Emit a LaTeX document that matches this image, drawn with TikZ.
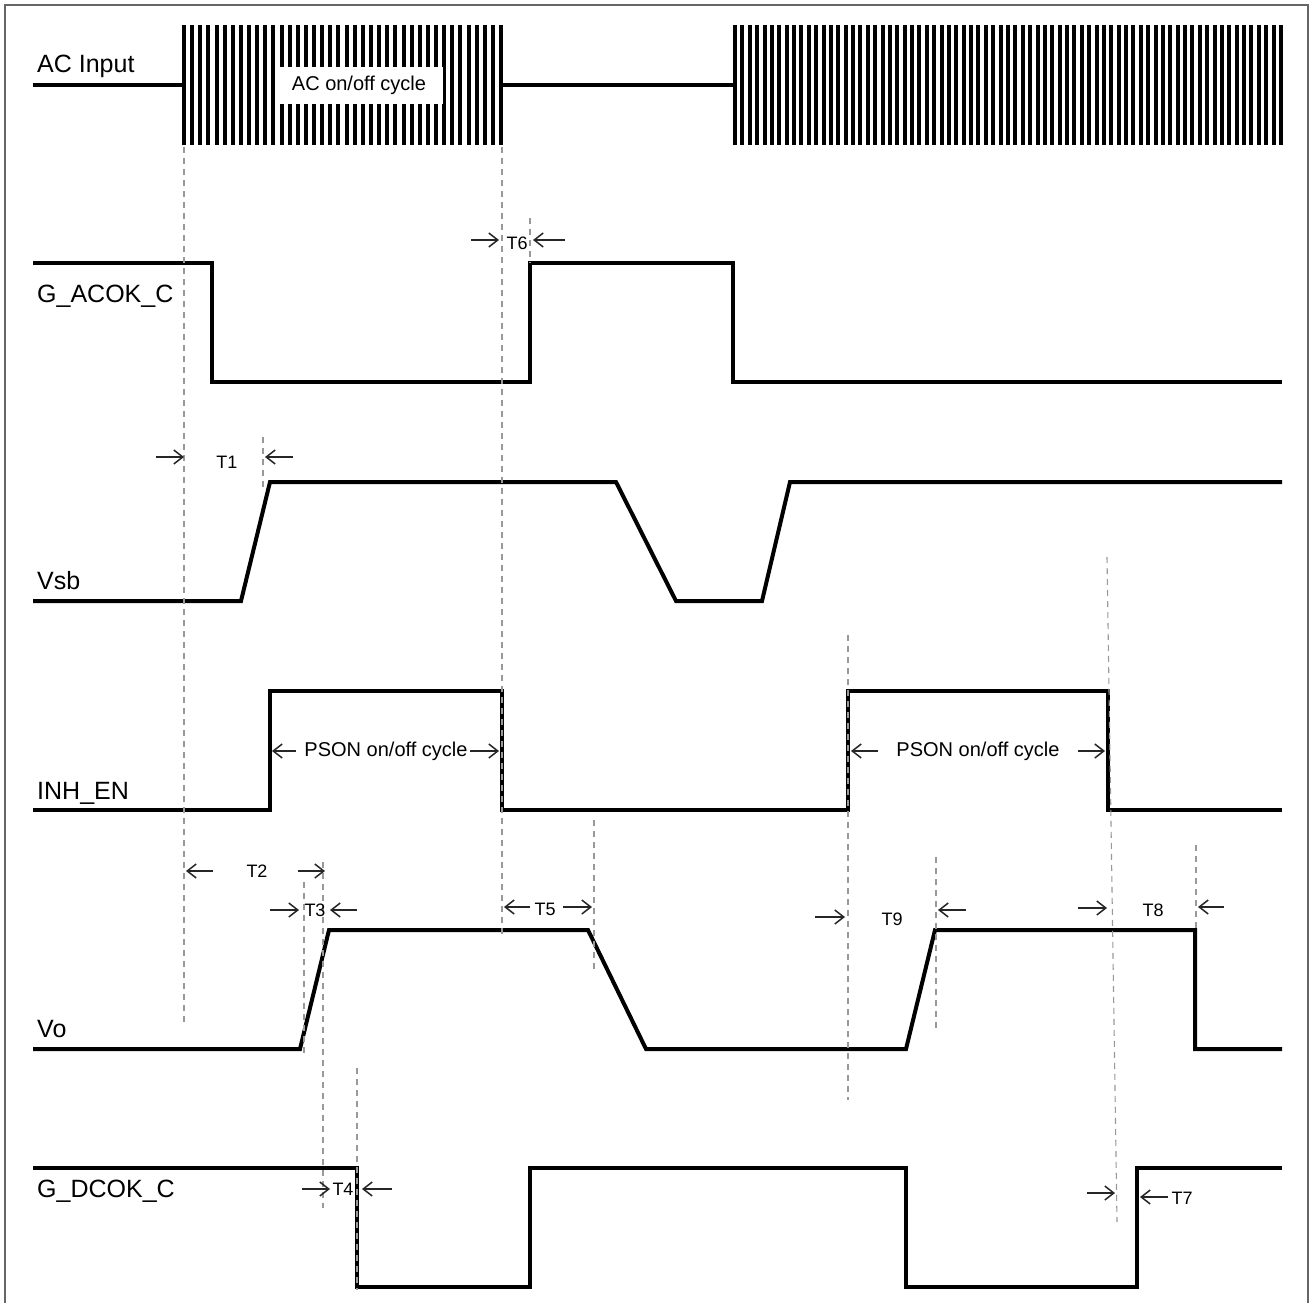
\documentclass[tikz,border=0pt]{standalone}
\usepackage{fontspec}
\setmainfont{Liberation Sans}
\usetikzlibrary{arrows.meta}
\begin{document}
\begin{tikzpicture}[x=1pt,y=-1pt,
  sig/.style={line width=4pt, line join=miter, draw=black},
  guide/.style={draw=black!40, line width=1.1pt, dash pattern=on 6pt off 5pt},
  dim/.style={-{Straight Barb[length=9pt,width=14pt]}, line width=1.5pt, draw=black!85},
  lbl/.style={font=\fontsize{25}{28}\selectfont, anchor=base west, inner sep=0pt},
  tl/.style={font=\fontsize{18}{20}\selectfont, inner sep=1pt},
  stripe/.style={line width=4pt, draw=black},
]
\useasboundingbox (0,0) rectangle (1314,1303);
\fill[white] (0,0) rectangle (1314,1303);
\draw[black!60, line width=1.8pt] (5,1320) -- (5,5) -- (1308,5) -- (1308,1320);

% AC input bursts
\foreach \i in {0,...,39} \draw[stripe] ({184+8.13*\i},25) -- ++(0,120);
\foreach \i in {0,...,74} \draw[stripe] ({735+7.378*\i},25) -- ++(0,120);
\node[fill=white, minimum width=168pt, minimum height=37pt, inner sep=0pt,
      font=\fontsize{20}{22}\selectfont] (acbox) at (359,85.5) {AC on/off cycle};

% signals
\draw[sig] (33,85) -- (184,85);
\draw[sig] (501,85) -- (735,85);
\draw[sig] (33,263) -- (212,263) -- (212,382) -- (530,382) -- (530,263) -- (733,263) -- (733,382) -- (1282,382);
\draw[sig] (33,601) -- (241,601) -- (270,482) -- (616,482) -- (676,601) -- (762,601) -- (790,482) -- (1282,482);
\draw[sig] (33,810) -- (270,810) -- (270,691) -- (502,691) -- (502,810) -- (848,810) -- (848,691) -- (1108,691) -- (1108,810) -- (1282,810);
\draw[sig] (33,1049) -- (300,1049) -- (329,930) -- (588,930) -- (646,1049) -- (906,1049) -- (935,930) -- (1195,930) -- (1195,1049) -- (1282,1049);
\draw[sig] (33,1168) -- (357,1168) -- (357,1287) -- (530,1287) -- (530,1168) -- (906,1168) -- (906,1287) -- (1137,1287) -- (1137,1168) -- (1282,1168);

% signal names
\node[lbl] (acin) at (37,73) {AC Input};
\node[lbl] (acok) at (37,302) {G\_ACOK\_C};
\node[lbl] (vsb) at (37,589) {Vsb};
\node[lbl] (inh) at (37,799) {INH\_EN};
\node[lbl] (vo) at (37,1037) {Vo};
\node[lbl] (dcok) at (37,1197) {G\_DCOK\_C};

% guide lines
\draw[guide] (184,147) -- (184,1022);
\draw[guide] (502,147) -- (502,935);
\draw[guide] (530,218) -- (530,263);
\draw[guide] (263,437) -- (263,490);
\draw[guide] (323,862) -- (323,1208);
\draw[guide] (304,882) -- (304,1055);
\draw[guide] (357,1068) -- (357,1290);
\draw[guide] (594,820) -- (594,970);
\draw[guide] (848,635) -- (848,1100);
\draw[guide] (936,857) -- (936,1030);
\draw[guide] (1107,557) -- (1117,1222);
\draw[guide] (1196,845) -- (1196,930);

% timing labels and arrows
\node[tl] (t6) at (517,243) {T6};
\draw[dim] (471,240) -- (499,240);
\draw[dim] (565,240) -- (533,240);

\node[tl] (t1) at (227,462) {T1};
\draw[dim] (156,457) -- (184,457);
\draw[dim] (293,457) -- (265,457);

\node[font=\fontsize{20}{22}\selectfont, inner sep=1pt] (pson1) at (386,751) {PSON on/off cycle};
\draw[dim] (296,751) -- (272,751);
\draw[dim] (470,751) -- (499,751);

\node[font=\fontsize{20}{22}\selectfont, inner sep=1pt] (pson2) at (978,751) {PSON on/off cycle};
\draw[dim] (878,751) -- (851,751);
\draw[dim] (1078,751) -- (1105,751);

\node[tl] (t2) at (257,871) {T2};
\draw[dim] (213,871) -- (186,871);
\draw[dim] (298,871) -- (325,871);

\node[tl] (t3) at (315,910) {T3};
\draw[dim] (270,910) -- (299,910);
\draw[dim] (357,910) -- (330,910);

\node[tl] (t5) at (545,909) {T5};
\draw[dim] (530,907) -- (504,907);
\draw[dim] (563,907) -- (592,907);

\node[tl] (t9) at (892,919) {T9};
\draw[dim] (815,917) -- (845,917);
\draw[dim] (966,910) -- (938,910);

\node[tl] (t8) at (1153,910) {T8};
\draw[dim] (1078,908) -- (1107,908);
\draw[dim] (1224,907) -- (1198,907);

\node[tl] (t4) at (343,1189) {T4};
\draw[dim] (302,1189) -- (330,1189);
\draw[dim] (392,1189) -- (362,1189);

\node[tl] (t7) at (1182,1198) {T7};
\draw[dim] (1087,1193) -- (1115,1193);
\draw[dim] (1168,1197) -- (1140,1197);
\end{tikzpicture}
\end{document}
